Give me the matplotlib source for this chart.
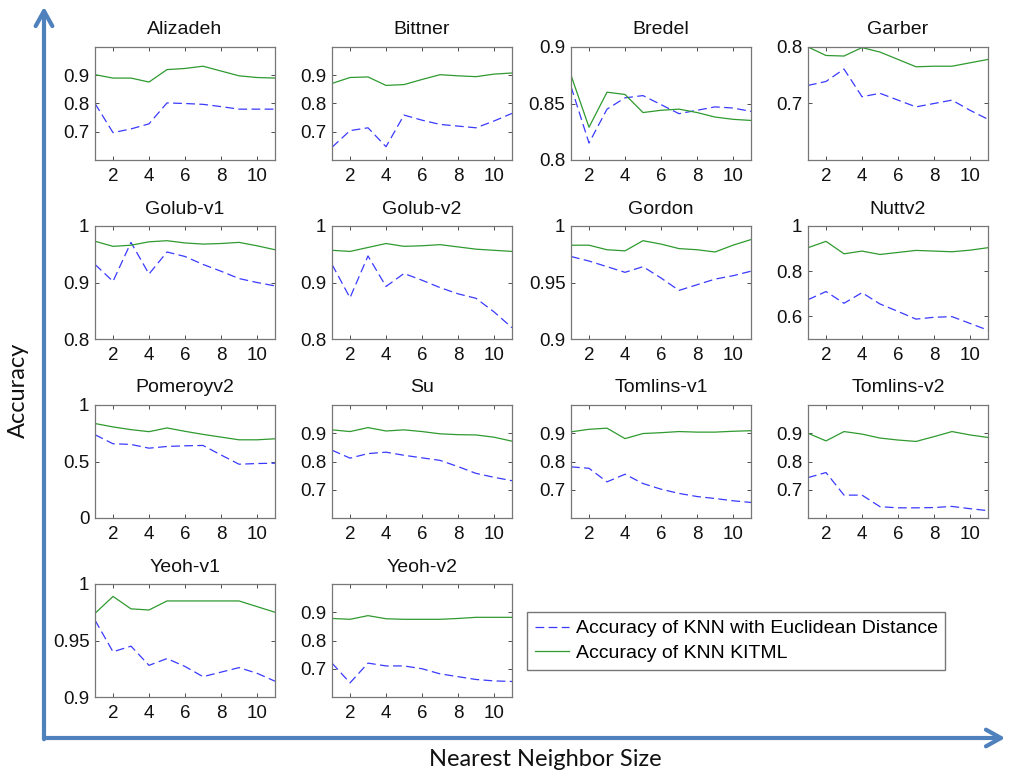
import matplotlib
matplotlib.use("Agg")
import matplotlib.pyplot as plt
from matplotlib.patches import FancyArrowPatch
from matplotlib.lines import Line2D

plt.rcParams['font.family'] = ['Liberation Sans', 'DejaVu Sans']

k_values = list(range(1, 12))

titles = ["Alizadeh", "Bittner", "Bredel", "Garber",
          "Golub-v1", "Golub-v2", "Gordon", "Nuttv2",
          "Pomeroyv2", "Su", "Tomlins-v1", "Tomlins-v2",
          "Yeoh-v1", "Yeoh-v2"]

# Euclidean-distance KNN accuracy (blue dashed)
alizadeh_euc = [0.800, 0.697, 0.710, 0.728, 0.802, 0.800, 0.797, 0.789, 0.780, 0.780, 0.780]
bittner_euc = [0.645, 0.704, 0.714, 0.647, 0.759, 0.741, 0.726, 0.720, 0.714, 0.738, 0.765]
bredel_euc = [0.865, 0.815, 0.845, 0.855, 0.857, 0.849, 0.841, 0.844, 0.847, 0.846, 0.843]
garber_euc = [0.732, 0.739, 0.761, 0.712, 0.718, 0.706, 0.694, 0.700, 0.706, 0.688, 0.672]
golub1_euc = [0.932, 0.902, 0.971, 0.915, 0.954, 0.946, 0.932, 0.920, 0.907, 0.900, 0.894]
golub2_euc = [0.932, 0.873, 0.947, 0.893, 0.916, 0.904, 0.891, 0.880, 0.872, 0.848, 0.820]
gordon_euc = [0.973, 0.969, 0.964, 0.959, 0.964, 0.954, 0.943, 0.948, 0.953, 0.956, 0.960]
nutt_euc = [0.674, 0.710, 0.658, 0.705, 0.655, 0.622, 0.588, 0.596, 0.599, 0.569, 0.539]
pomeroy_euc = [0.737, 0.657, 0.651, 0.618, 0.633, 0.639, 0.642, 0.558, 0.476, 0.482, 0.485]
su_euc = [0.840, 0.812, 0.828, 0.833, 0.822, 0.813, 0.804, 0.782, 0.758, 0.744, 0.732]
tomlins1_euc = [0.781, 0.776, 0.728, 0.755, 0.722, 0.702, 0.687, 0.676, 0.669, 0.661, 0.655]
tomlins2_euc = [0.743, 0.761, 0.681, 0.681, 0.640, 0.636, 0.636, 0.637, 0.641, 0.633, 0.626]
yeoh1_euc = [0.968, 0.940, 0.945, 0.928, 0.934, 0.927, 0.918, 0.922, 0.926, 0.921, 0.914]
yeoh2_euc = [0.720, 0.650, 0.720, 0.710, 0.710, 0.700, 0.682, 0.672, 0.662, 0.657, 0.655]

# KITML KNN accuracy (green solid)
alizadeh_kitml = [0.902, 0.890, 0.890, 0.876, 0.920, 0.924, 0.932, 0.915, 0.898, 0.892, 0.890]
bittner_kitml = [0.871, 0.892, 0.894, 0.864, 0.867, 0.885, 0.902, 0.898, 0.895, 0.904, 0.908]
bredel_kitml = [0.875, 0.829, 0.860, 0.858, 0.842, 0.844, 0.845, 0.842, 0.838, 0.836, 0.835]
garber_kitml = [0.800, 0.785, 0.784, 0.799, 0.791, 0.778, 0.765, 0.766, 0.766, 0.772, 0.778]
golub1_kitml = [0.973, 0.964, 0.966, 0.972, 0.974, 0.970, 0.968, 0.969, 0.971, 0.965, 0.958]
golub2_kitml = [0.957, 0.955, 0.962, 0.969, 0.964, 0.965, 0.967, 0.963, 0.959, 0.957, 0.955]
gordon_kitml = [0.983, 0.983, 0.979, 0.978, 0.987, 0.984, 0.980, 0.979, 0.977, 0.983, 0.988]
nutt_kitml = [0.904, 0.932, 0.877, 0.889, 0.874, 0.883, 0.892, 0.889, 0.886, 0.893, 0.904]
pomeroy_kitml = [0.836, 0.806, 0.782, 0.764, 0.797, 0.767, 0.740, 0.716, 0.692, 0.692, 0.701]
su_kitml = [0.912, 0.906, 0.920, 0.908, 0.912, 0.906, 0.898, 0.895, 0.894, 0.886, 0.872]
tomlins1_kitml = [0.905, 0.914, 0.918, 0.881, 0.899, 0.902, 0.906, 0.904, 0.904, 0.907, 0.909]
tomlins2_kitml = [0.900, 0.873, 0.906, 0.897, 0.883, 0.876, 0.871, 0.888, 0.906, 0.894, 0.885]
yeoh1_kitml = [0.974, 0.989, 0.978, 0.977, 0.985, 0.985, 0.985, 0.985, 0.985, 0.980, 0.975]
yeoh2_kitml = [0.878, 0.875, 0.888, 0.877, 0.875, 0.875, 0.875, 0.878, 0.882, 0.882, 0.882]

euc_series = [alizadeh_euc, bittner_euc, bredel_euc, garber_euc,
              golub1_euc, golub2_euc, gordon_euc, nutt_euc,
              pomeroy_euc, su_euc, tomlins1_euc, tomlins2_euc,
              yeoh1_euc, yeoh2_euc]
kitml_series = [alizadeh_kitml, bittner_kitml, bredel_kitml, garber_kitml,
                golub1_kitml, golub2_kitml, gordon_kitml, nutt_kitml,
                pomeroy_kitml, su_kitml, tomlins1_kitml, tomlins2_kitml,
                yeoh1_kitml, yeoh2_kitml]

y_limits = [(0.6, 1.0), (0.6, 1.0), (0.8, 0.9), (0.6, 0.8),
            (0.8, 1.0), (0.8, 1.0), (0.9, 1.0), (0.5, 1.0),
            (0.0, 1.0), (0.6, 1.0), (0.6, 1.0), (0.6, 1.0),
            (0.9, 1.0), (0.6, 1.0)]
y_ticks = [[0.7, 0.8, 0.9], [0.7, 0.8, 0.9], [0.8, 0.85, 0.9], [0.7, 0.8],
           [0.8, 0.9, 1.0], [0.8, 0.9, 1.0], [0.9, 0.95, 1.0], [0.6, 0.8, 1.0],
           [0.0, 0.5, 1.0], [0.7, 0.8, 0.9], [0.7, 0.8, 0.9], [0.7, 0.8, 0.9],
           [0.9, 0.95, 1.0], [0.7, 0.8, 0.9]]
x_ticks = [2, 4, 6, 8, 10]

legend_labels = ["Accuracy of KNN with Euclidean Distance", "Accuracy of KNN KITML"]
xlabel_text = "Nearest Neighbor Size"
ylabel_text = "Accuracy"

W, H = 1010, 776
fig = plt.figure(figsize=(W / 100, H / 100), dpi=100)

col_left = [95, 332, 571, 808]
col_width = 180
row_top = [47, 226, 405, 584]
row_height = 113

blue = '#3a3aff'
green = '#2f9a2f'
arrow_color = '#4f81bd'


def fmt(v):
    return f"{v:g}"


for i, title in enumerate(titles):
    r, c = divmod(i, 4)
    left = col_left[c] / W
    bottom = 1 - (row_top[r] + row_height) / H
    ax = fig.add_axes([left, bottom, col_width / W, row_height / H])
    ax.plot(k_values, euc_series[i], color=blue, lw=0.9, dashes=(7, 3.5))
    ax.plot(k_values, kitml_series[i], color=green, lw=0.9)
    ax.set_xlim(1, 11)
    ax.set_ylim(*y_limits[i])
    ax.set_xticks(x_ticks)
    ax.set_xticklabels([str(t) for t in x_ticks])
    ax.set_yticks(y_ticks[i])
    ax.set_yticklabels([fmt(t) for t in y_ticks[i]])
    ax.tick_params(direction='in', length=3, width=0.6, labelsize=13.5,
                   top=True, right=True, colors='#333333', labelcolor='#111111')
    ax.tick_params(axis='x', pad=6)
    ax.tick_params(axis='y', pad=4)
    for sp in ax.spines.values():
        sp.set_color('#777777')
        sp.set_linewidth(0.9)
    ax.set_title(title, fontsize=14, pad=9, color='#111111')

# Legend
handles = [Line2D([], [], color=blue, lw=0.9, dashes=(7, 3.5)),
           Line2D([], [], color=green, lw=0.9)]
fig.legend(handles, legend_labels, loc='upper left',
           bbox_to_anchor=(527 / W, 1 - 612 / H), fontsize=14,
           frameon=True, fancybox=False, edgecolor='#555555',
           handlelength=1.75, borderpad=0.4, labelspacing=0.35,
           handletextpad=0.35, borderaxespad=0)

# Axis arrows
ax_x0, ax_y0 = 44 / W, 1 - 738 / H
fig.patches.append(FancyArrowPatch((ax_x0, 1 - 742 / H), (ax_x0, 1 - 4 / H),
                                   transform=fig.transFigure, color=arrow_color,
                                   lw=3, arrowstyle='->,head_length=0.9,head_width=0.5',
                                   mutation_scale=12))
fig.patches.append(FancyArrowPatch((42 / W, ax_y0), (1008 / W, ax_y0),
                                   transform=fig.transFigure, color=arrow_color,
                                   lw=3, arrowstyle='->,head_length=0.9,head_width=0.5',
                                   mutation_scale=12))

fig.text(18 / W, 1 - 390 / H, ylabel_text, rotation=90, ha='center', va='center',
         fontsize=17, family=['Lato', 'DejaVu Sans'], color='#111111')
fig.text(545 / W, 1 - 760 / H, xlabel_text, ha='center', va='center',
         fontsize=17, family=['Lato', 'DejaVu Sans'], color='#111111')

fig.savefig('out.png', dpi=100)
